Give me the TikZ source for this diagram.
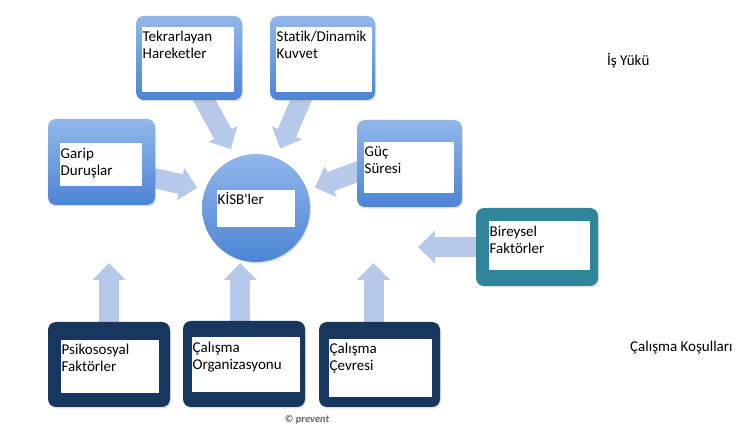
\documentclass[tikz,border=0pt]{standalone}
\usepackage{fontspec}
\setmainfont{Carlito}[Ligatures=CommonOff]
\usepackage{xcolor}
\usepackage{tikz}
\usetikzlibrary{arrows.meta,shadows,backgrounds}
\definecolor{BoxTop}{RGB}{146,183,234}
\definecolor{BoxBottom}{RGB}{76,133,212}
\definecolor{TealBox}{RGB}{49,133,155}
\definecolor{NavyBox}{RGB}{23,55,94}
\definecolor{FlowBlue}{RGB}{183,201,235}

\begin{document}
\begin{tikzpicture}[x=1pt,y=-1pt,font=\fontsize{15}{17.5}\selectfont,
  panel/.style={rounded corners=8pt,inner sep=0pt,drop shadow={opacity=.25,shadow xshift=1pt,shadow yshift=-1.5pt}},
  bluepanel/.style={panel,top color=BoxTop,bottom color=BoxBottom},
  tealpanel/.style={panel,fill=TealBox},
  navypanel/.style={panel,fill=NavyBox},
  tag/.style={fill=white,anchor=north west,inner xsep=.5pt,inner ysep=0pt,align=left,text height=14pt},
  flow/.style={line width=20pt,draw=FlowBlue,shorten <=-8pt,-{Triangle[length=17pt,width=32pt]}}]
\path[use as bounding box] (0,0) rectangle (747,435);
% outer boxes
\node[bluepanel,minimum width=106pt,minimum height=84pt] (rep) at (189,58) {};
\node[bluepanel,minimum width=105pt,minimum height=84pt] (stat) at (322.5,58) {};
\node[bluepanel,minimum width=107pt,minimum height=86pt] (garip) at (101.5,162) {};
\node[bluepanel,minimum width=105pt,minimum height=87pt] (guc) at (409.5,163.5) {};
\node[bluepanel,circle,minimum size=108pt] (kisb) at (256,208) {};
\node[tealpanel,minimum width=122pt,minimum height=78pt] (bir) at (537,247) {};
\node[navypanel,minimum width=122pt,minimum height=85pt] (psik) at (109,364.5) {};
\node[navypanel,minimum width=122pt,minimum height=86pt] (org) at (244,364) {};
\node[navypanel,minimum width=121pt,minimum height=85pt] (cev) at (379.5,364.5) {};
% white labels
\node[tag,text width=91pt,text depth=51pt] (rep-t) at (142,27) {Tekrarlayan\\Hareketler};
\node[tag,text width=95pt,text depth=51pt] (stat-t) at (276,27) {Statik/Dinamik\\Kuvvet};
\node[tag,text width=81pt,text height=15pt,text depth=28pt] (garip-t) at (60,143) {Garip\\Duruşlar};
\node[tag,text width=89pt,text depth=37pt] (guc-t) at (364,142) {Güç\\Süresi};
\node[tag,text width=77pt,text depth=23pt] (kisb-t) at (217,190) {KİSB\textquotesingle ler};
\node[tag,text width=100pt,text height=15pt,text depth=34pt] (bir-t) at (489,221) {Bireysel\\Faktörler};
\node[tag,text width=97pt,text depth=39pt] (psik-t) at (61,340) {Psikososyal\\Faktörler};
\node[tag,text width=107pt,text height=15pt,text depth=40pt] (org-t) at (192,337) {Çalışma\\Organizasyonu};
\node[tag,text width=102pt,text depth=44pt] (cev-t) at (329,339) {Çalışma\\Çevresi};
% side texts
\node[anchor=base west,inner sep=0pt] (load) at (607,66) {İş Yükü};
\node[anchor=base west,inner sep=0pt] (cond) at (630,352) {Çalışma Koşulları};
\node[font=\fontsize{10.5}{12}\selectfont\bfseries\itshape,text=black!60] (mark) at (307,420) {© prevent};
% block arrows
\coordinate (up) at (0,263);
\coordinate (bir-tip) at (418,247);
\begin{scope}[on background layer]
\draw[flow,shorten >=10pt] (rep.290) -- (kisb.112);
\draw[flow,shorten >=10pt] (stat.243) -- (kisb.68);
\draw[flow,shorten >=8pt] (garip.-17) -- (kisb.160);
\draw[flow,shorten >=8pt] (guc.189) -- (kisb.19);
\draw[flow] (bir.west) -- (bir-tip);
\draw[flow] (psik.north) -- (psik.north |- up);
\draw[flow] (org.95) -- (org.95 |- up);
\draw[flow] (cev.98.5) -- (cev.98.5 |- up);
\end{scope}
\end{tikzpicture}
\end{document}
